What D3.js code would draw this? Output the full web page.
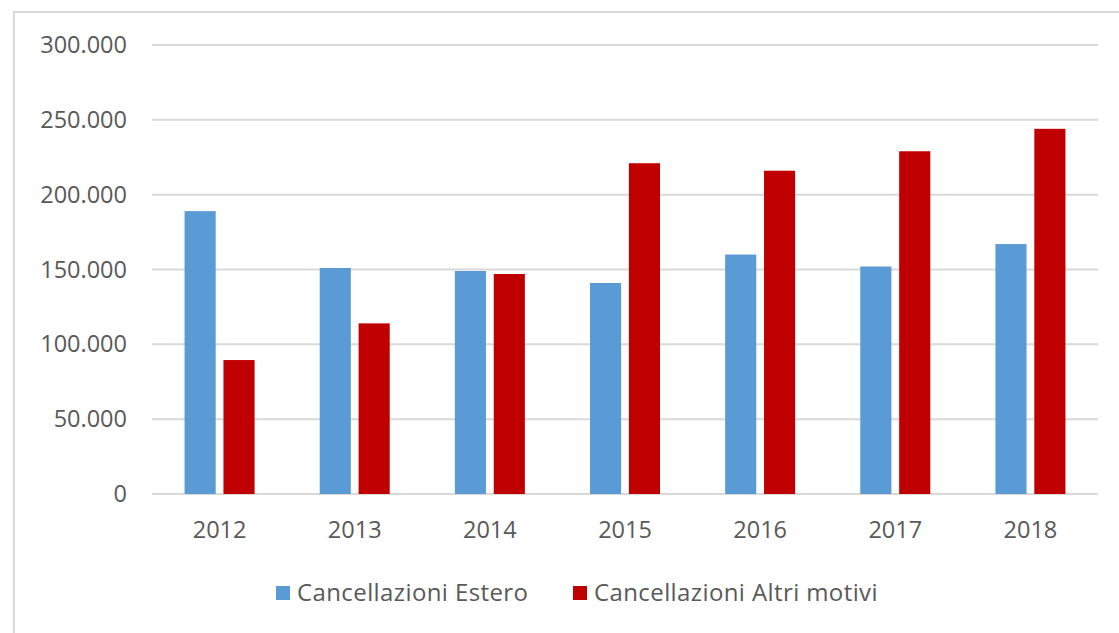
<!DOCTYPE html>
<html>
<head>
    <meta charset="utf-8">
    <script src="https://d3js.org/d3.v7.min.js"></script>
    <style>
        body { margin: 0; background: #fff; }
        svg text { font-family: "Open Sans", sans-serif; fill: #595959; }
    </style>
</head>
<body>
<script>
    // dati
    var anni = ["2012", "2013", "2014", "2015", "2016", "2017", "2018"];
    var estero = [189000, 151000, 149000, 141000, 160000, 152000, 167000];
    var altriMotivi = [89500, 114000, 147000, 221000, 216000, 229000, 244000];
    var serie = ["Cancellazioni Estero", "Cancellazioni Altri motivi"];
    var yTicks = [0, 50000, 100000, 150000, 200000, 250000, 300000];
    var colori = ["#5B9BD5", "#C00000"];

    var W = 1119, H = 633;
    var margin = {top: 45, right: 21, bottom: 139, left: 152},
        width = W - margin.left - margin.right,
        height = H - margin.top - margin.bottom;

    var svg = d3.select("body").append("svg")
        .attr("width", W)
        .attr("height", H);

    // bordo dell'area grafico
    svg.append("rect")
        .attr("x", 14).attr("y", 12)
        .attr("width", W + 10).attr("height", H + 10)
        .attr("fill", "none")
        .attr("stroke", "#d9d9d9")
        .attr("stroke-width", 2);

    var g = svg.append("g")
        .attr("transform", "translate(" + margin.left + "," + margin.top + ")");

    var x = d3.scaleBand().domain(anni).range([0, width]).paddingInner(0).paddingOuter(0);
    var x1 = d3.scaleBand().domain(serie).range([x.bandwidth() / 2 - 35, x.bandwidth() / 2 + 35]).paddingInner(0.2);
    var y = d3.scaleLinear().domain([0, 300000]).range([height, 0]);

    var fmt = function(d) { return d3.format(",")(d).replace(/,/g, "."); };

    // griglia
    g.selectAll(".grid")
        .data(yTicks)
      .enter().append("line")
        .attr("x1", 0).attr("x2", width)
        .attr("y1", function(d) { return y(d); })
        .attr("y2", function(d) { return y(d); })
        .attr("stroke", "#d9d9d9")
        .attr("stroke-width", 2);

    // asse Y
    var yAxis = g.append("g")
        .call(d3.axisLeft(y).tickValues(yTicks).tickFormat(fmt).tickSize(0).tickPadding(25));
    yAxis.select(".domain").remove();
    yAxis.selectAll("text").style("font-size", "23.5px").attr("fill", "#595959");

    // barre
    var dati = anni.map(function(a, i) { return {anno: a, valori: [estero[i], altriMotivi[i]]}; });
    var gruppi = g.selectAll(".anno")
        .data(dati)
      .enter().append("g")
        .attr("transform", function(d) { return "translate(" + x(d.anno) + ",0)"; });

    gruppi.selectAll("rect")
        .data(function(d) { return d.valori.map(function(v, j) { return {s: serie[j], v: v, c: colori[j]}; }); })
      .enter().append("rect")
        .attr("x", function(d) { return x1(d.s); })
        .attr("width", x1.bandwidth())
        .attr("y", function(d) { return y(d.v); })
        .attr("height", function(d) { return height - y(d.v); })
        .attr("fill", function(d) { return d.c; });

    // asse X
    var xAxis = g.append("g")
        .attr("transform", "translate(0," + height + ")")
        .call(d3.axisBottom(x).tickSize(0).tickPadding(27));
    xAxis.select(".domain").remove();
    xAxis.selectAll("text").style("font-size", "23.5px").attr("fill", "#595959");

    // legenda
    var legendX = [276, 573];
    var legend = svg.selectAll(".legend")
        .data(serie)
      .enter().append("g")
        .attr("transform", function(d, i) { return "translate(" + legendX[i] + ",586)"; });
    legend.append("rect")
        .attr("width", 14).attr("height", 14)
        .attr("fill", function(d, i) { return colori[i]; });
    legend.append("text")
        .attr("x", 21).attr("y", 15)
        .style("font-size", "24px")
        .style("letter-spacing", "0.4px")
        .text(function(d) { return d; });
</script>
</body>
</html>
